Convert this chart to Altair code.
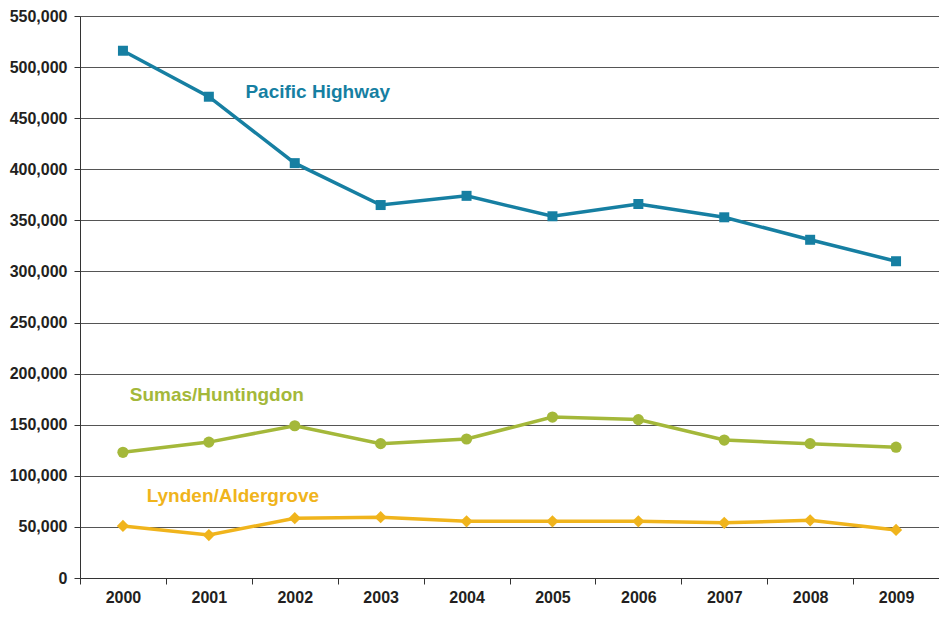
import altair as alt
import pandas as pd

years = ["2000", "2001", "2002", "2003", "2004", "2005", "2006", "2007", "2008", "2009"]
pacific = [516000, 471000, 406000, 365000, 374000, 354000, 366000, 353000, 331000, 310000]
sumas = [123000, 133000, 149000, 131500, 136000, 157500, 155000, 135000, 131500, 128000]
lynden = [51000, 42000, 58500, 59500, 55500, 55500, 55500, 54000, 56500, 47000]

series_names = ["Pacific Highway", "Sumas/Huntingdon", "Lynden/Aldergrove"]
series_colors = ["#167FA2", "#A4B83A", "#F0B41C"]
series_shapes = ["square", "circle", "diamond"]
series_sizes = [100, 125, 150]

label_year = ["2002", "2001", "2001"]
label_value = [476000, 179500, 80500]
label_dx = [23, 8, 24]

rows = []
for name, vals in zip(series_names, [pacific, sumas, lynden]):
    for y, v in zip(years, vals):
        rows.append({"Year": y, "Value": v, "Series": name})
df = pd.DataFrame(rows)

FONT = "Liberation Sans"

x_enc = alt.X(
    "Year:O",
    scale=alt.Scale(type="band", domain=years, paddingInner=0, paddingOuter=0),
    bandPosition=0.5,
    axis=alt.Axis(
        title=None, labelAngle=0, tickBand="extent", tickSize=6, tickColor="#333333",
        domainColor="#333333", labelFont=FONT, labelFontWeight="bold", labelFontSize=16,
        labelColor="#231F20", labelPadding=5, grid=False,
    ),
)
y_enc = alt.Y(
    "Value:Q",
    scale=alt.Scale(domain=[0, 550000], nice=False),
    axis=alt.Axis(
        title=None, values=list(range(0, 550001, 50000)), format=",d", tickSize=6,
        tickColor="#333333", domainColor="#333333", gridColor="#555555", gridWidth=1,
        labelFont=FONT, labelFontWeight="bold", labelFontSize=16, labelColor="#231F20",
        labelPadding=7,
    ),
)

layers = []
for name, c, shp, sz in zip(series_names, series_colors, series_shapes, series_sizes):
    sub = df[df["Series"] == name]
    base = alt.Chart(sub)
    layers.append(base.mark_line(strokeWidth=3.5, color=c).encode(x=x_enc, y=y_enc))
    layers.append(base.mark_point(shape=shp, filled=True, size=sz, opacity=1, color=c).encode(x=x_enc, y=y_enc))

for name, c, yr, val, dx in zip(series_names, series_colors, label_year, label_value, label_dx):
    ldf = pd.DataFrame({"Year": [yr], "Value": [val], "Series": [name]})
    layers.append(
        alt.Chart(ldf).mark_text(font=FONT, fontWeight="bold", fontSize=19, color=c, dx=dx, align="center", baseline="middle")
        .encode(x=x_enc, y=y_enc, text="Series:N")
    )

chart = alt.layer(*layers).properties(
    width=859, height=562,
    autosize=alt.AutoSizeParams(type="none"),
    padding={"left": 72, "top": 8, "right": 0, "bottom": 35},
).configure_view(stroke=None).configure(background="white")

chart.save("out.html", embed_options={"renderer": "svg", "actions": False})
